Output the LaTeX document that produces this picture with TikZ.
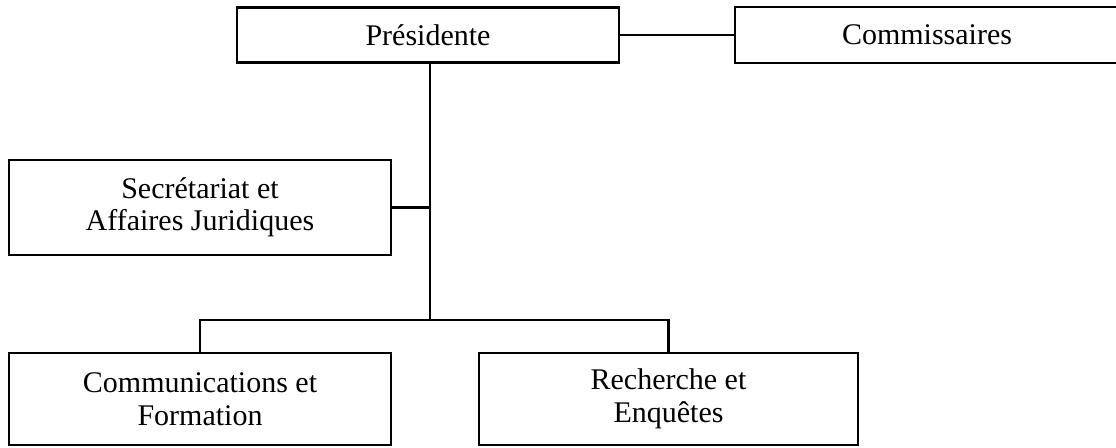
\documentclass[tikz,border=0pt]{standalone}
\usepackage{fontspec}
\setmainfont{Liberation Serif}
\begin{document}
\begin{tikzpicture}[x=1pt,y=-1pt,
  orgbox/.style={draw=black, line width=2.5pt, fill=white, rectangle, inner sep=0pt,
    align=center, font=\fontsize{30}{32.5}\selectfont},
  link/.style={draw=black, line width=2.3pt}]
\useasboundingbox (0,0) rectangle (1116,447);
\clip (0,0) rectangle (1116,447);
\fill[white] (0,0) rectangle (1116,447);
\node[orgbox, minimum width=382pt, minimum height=55pt] (pres) at (428,35) {Présidente};
\node[orgbox, minimum width=384pt, minimum height=56pt] (comm) at (927,35) {Commissaires};
\node[orgbox, minimum width=382pt, minimum height=95pt] (sec) at (200,207.5) {Secrétariat et\\Affaires Juridiques};
\node[orgbox, minimum width=382pt, minimum height=92pt] (cf) at (200,399) {Communications et\\Formation};
\node[orgbox, minimum width=379pt, minimum height=92pt] (re) at (668.5,399) {Recherche et\\Enquêtes};
\coordinate (trunk) at (430,320);
\draw[link] (pres.east) -- (comm.west);
\draw[link] (trunk |- pres.south) -- (trunk);
\draw[link] (sec.east) -- (sec.east -| trunk);
\draw[link] (cf.north) |- (trunk) -| (re.north);
\end{tikzpicture}
\end{document}
